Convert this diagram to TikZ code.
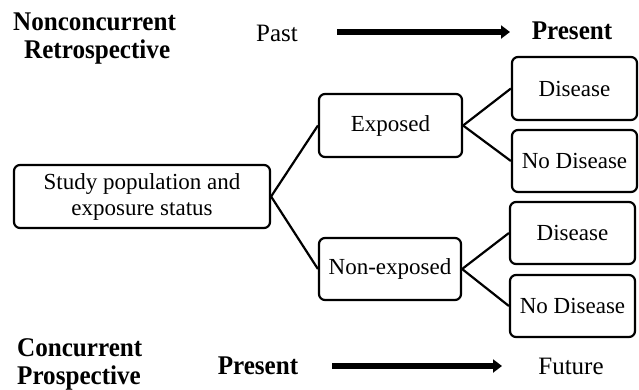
\documentclass[tikz,border=0pt]{standalone}
\usepackage{fontspec}
\setmainfont{Liberation Serif}
\usetikzlibrary{arrows.meta}
\newfontfamily\condbold[FakeStretch=0.93]{Liberation Serif Bold}
\begin{document}
\begin{tikzpicture}[x=1pt,y=-1pt,
  box/.style={draw,line width=2.2pt,rounded corners=6pt,inner sep=0pt,align=center,
    font=\fontsize{23}{26}\selectfont},
  conn/.style={line width=2.2pt},
  timearrow/.style={line width=5.5pt,-{Triangle[length=9pt,width=13pt]}},
  lbl/.style={inner sep=0pt,align=left,font=\condbold\fontsize{27}{31}\selectfont},
  tlbl/.style={inner sep=0pt,font=\fontsize{25}{30}\selectfont}]
\useasboundingbox (0,0) rectangle (639,389);
% headings
\node[lbl,anchor=west] (nr) at (13,39) {Nonconcurrent\\[-3pt]\hspace*{11pt}Retrospective};
\node[tlbl] (past) at (277,33) {Past};
\coordinate (a1s) at (337,32);
\coordinate (a1e) at (510,32);
\draw[timearrow] (a1s) -- (a1e);
\node[tlbl,font=\condbold\fontsize{27}{30}\selectfont] (pres1) at (572,31) {Present};
% boxes
\node[box,minimum width=256pt,minimum height=63pt] (study) at (142,196.5) {Study population and\\exposure status};
\node[box,minimum width=143pt,minimum height=63pt] (exp) at (390.5,125.5) {Exposed};
\node[box,minimum width=142pt,minimum height=62pt] (nexp) at (390,269) {Non-exposed};
\node[box,minimum width=125pt,minimum height=63pt] (d1) at (574.5,88.5) {Disease};
\node[box,minimum width=125pt,minimum height=62pt] (nd1) at (574.5,161) {No Disease};
\node[box,minimum width=125pt,minimum height=62pt] (d2) at (572.5,233) {Disease};
\node[box,minimum width=125pt,minimum height=62pt] (nd2) at (572.5,306) {No Disease};
% connectors
\draw[conn] (study.east) -- (exp.west);
\draw[conn] (study.east) -- (nexp.west);
\draw[conn] (exp.east) -- (d1.west);
\draw[conn] (exp.east) -- (nd1.west);
\draw[conn] (nexp.east) -- (d2.west);
\draw[conn] (nexp.east) -- (nd2.west);
% bottom
\node[lbl,anchor=west] (cp) at (17,364) {Concurrent\\[-3pt]Prospective};
\node[tlbl,font=\condbold\fontsize{27}{30}\selectfont] (pres2) at (258,366) {Present};
\coordinate (a2s) at (332,366);
\coordinate (a2e) at (502,366);
\draw[timearrow] (a2s) -- (a2e);
\node[tlbl] (fut) at (571,366) {Future};
\end{tikzpicture}
\end{document}
